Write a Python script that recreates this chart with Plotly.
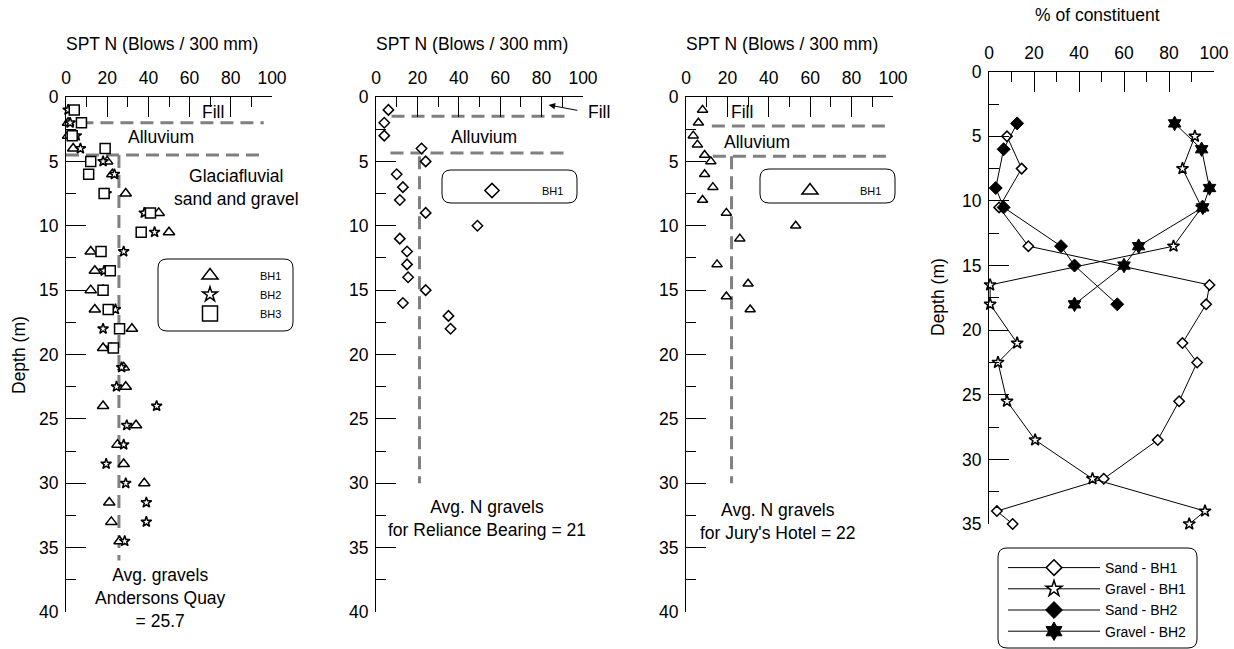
import plotly.graph_objects as go

W, H = 1234, 649
FONT = "Liberation Sans, Arial, sans-serif"

# ---------------- data ----------------
# Panel 1: Andersons Quay SPT N
aq_bh1_depth = [2, 3, 4, 5, 6, 7.5, 9, 10.5, 12, 13.5, 15, 16.5, 18, 19.5, 21, 22.5, 24, 25.5, 27, 28.5, 30, 31.5, 33, 34.5]
aq_bh1_n = [1, 1, 3.5, 20, 22.5, 29, 45, 50, 12, 14, 12, 14, 32, 18, 28, 29, 18, 34, 25, 28, 38, 21, 22, 26]
aq_bh2_depth = [1, 2, 3, 4, 5, 6, 7.5, 9, 10.5, 12, 13.5, 15, 16.5, 18, 19.5, 21, 22.5, 24, 25.5, 27, 28.5, 30, 31.5, 33, 34.5]
aq_bh2_n = [1, 2, 5, 7, 18, 23.5, 19.5, 38, 43, 28, 18.5, 18, 24, 18, 22, 27, 24.5, 44, 29.5, 28, 19.5, 29, 39, 39, 28.5]
aq_bh3_depth = [1, 2, 3, 4, 5, 6, 7.5, 9, 10.5, 12, 13.5, 15, 16.5, 18, 19.5]
aq_bh3_n = [4, 7.5, 3, 19, 12, 11, 18.5, 41, 36.5, 17, 21.5, 18, 20.5, 26, 23]
aq_fill_depth, aq_fill_span = 2.0, [7, 96]
aq_alluv_depth, aq_alluv_span = 4.5, [0, 96]
aq_avg_n, aq_avg_span = 25.7, [4.5, 36]

# Panel 2: Reliance Bearing SPT N
rb_depth = [1, 2, 3, 4, 5, 6, 7, 8, 9, 10, 11, 12, 13, 14, 15, 16, 17, 18]
rb_n = [6, 4, 4, 22, 24, 10, 13, 11.5, 24, 49, 11.5, 15, 15, 15.5, 24, 13, 35, 36]
rb_fill_depth, rb_fill_span = 1.5, [7.5, 93]
rb_alluv_depth, rb_alluv_span = 4.35, [7, 92]
rb_avg_n, rb_avg_span = 21, [4.6, 30]

# Panel 3: Jury's Hotel SPT N
jh_depth = [1, 2, 3, 3.7, 4.5, 5, 6, 7, 8, 9, 10, 11, 13, 14.5, 15.5, 16.5]
jh_n = [8, 6, 3.5, 5.5, 9, 12, 9, 13, 8, 19.5, 53, 26, 15, 30, 19.5, 31]
jh_fill_depth, jh_fill_span = 2.25, [12.5, 97]
jh_alluv_depth, jh_alluv_span = 4.6, [13, 99]
jh_avg_n, jh_avg_span = 22, [4.6, 30]

# Panel 4: % of constituent
bh1_depth = [5, 7.5, 10.5, 13.5, 16.5, 18, 21, 22.5, 25.5, 28.5, 31.5, 34, 35]
sand_bh1 = [8, 14.5, 4.5, 17.5, 98, 96.5, 86, 92.5, 84.5, 75, 51, 3.5, 10.5]
gravel_bh1 = [91.5, 86, 94.5, 82, 0.5, 0.5, 12.5, 4, 8, 20.5, 46, 96, 89]
bh2_depth = [4, 6, 9, 10.5, 13.5, 15, 18]
sand_bh2 = [12.5, 6.5, 3, 6.5, 32, 38, 57]
gravel_bh2 = [82.5, 94.5, 98, 95, 66.5, 60, 38]

x_ticks = [0, 20, 40, 60, 80, 100]
depth_ticks_spt = [0, 5, 10, 15, 20, 25, 30, 35, 40]
depth_ticks_pct = [0, 5, 10, 15, 20, 25, 30, 35]

# ---------------- figure ----------------
fig = go.Figure()

def fx(px):
    return px / W

def fy(py):
    return 1 - py / H

OPEN = dict(color="white", line=dict(color="black", width=1.5))
DASH = dict(color="#808080", width=3, dash="13px,7px")

def add_marks(x, y, sym, size, xa, ya, name=None, legend=None, lsize=None):
    fig.add_trace(go.Scatter(x=x, y=y, mode="markers", xaxis=xa, yaxis=ya,
                             marker=dict(symbol=sym, size=size, **OPEN),
                             showlegend=False, cliponaxis=False, hoverinfo="skip"))
    if name:
        fig.add_trace(go.Scatter(x=[None], y=[None], mode="markers", xaxis=xa, yaxis=ya,
                                 marker=dict(symbol=sym, size=lsize, **OPEN),
                                 name=name, legend=legend, showlegend=True))

def add_layers(xa, ya, fill_d, fill_span, all_d, all_span, avg, avg_span):
    fig.add_trace(go.Scatter(x=fill_span, y=[fill_d, fill_d], mode="lines", line=DASH,
                             xaxis=xa, yaxis=ya, showlegend=False, hoverinfo="skip", cliponaxis=False))
    fig.add_trace(go.Scatter(x=all_span, y=[all_d, all_d], mode="lines", line=DASH,
                             xaxis=xa, yaxis=ya, showlegend=False, hoverinfo="skip", cliponaxis=False))
    fig.add_trace(go.Scatter(x=[avg, avg], y=avg_span, mode="lines", line=DASH,
                             xaxis=xa, yaxis=ya, showlegend=False, hoverinfo="skip", cliponaxis=False))

# Panel 1
add_layers("x", "y", aq_fill_depth, aq_fill_span, aq_alluv_depth, aq_alluv_span, aq_avg_n, aq_avg_span)
add_marks(aq_bh1_n, aq_bh1_depth, "triangle-up", 10, "x", "y", "BH1", "legend", 14)
add_marks(aq_bh2_n, aq_bh2_depth, "star", 8, "x", "y", "BH2", "legend", 11)
add_marks(aq_bh3_n, aq_bh3_depth, "square", 10, "x", "y", "BH3", "legend", 15)

# Panel 2
add_layers("x2", "y2", rb_fill_depth, rb_fill_span, rb_alluv_depth, rb_alluv_span, rb_avg_n, rb_avg_span)
add_marks(rb_n, rb_depth, "diamond", 8, "x2", "y2", "BH1", "legend2", 11)

# Panel 3
add_layers("x3", "y3", jh_fill_depth, jh_fill_span, jh_alluv_depth, jh_alluv_span, jh_avg_n, jh_avg_span)
add_marks(jh_n, jh_depth, "triangle-up", 9, "x3", "y3", "BH1", "legend3", 14)

# Panel 4
series4 = [
    ("Sand - BH1", sand_bh1, bh1_depth, "diamond", 8, 12, OPEN),
    ("Gravel - BH1", gravel_bh1, bh1_depth, "star", 9, 12, OPEN),
    ("Sand - BH2", sand_bh2, bh2_depth, "diamond", 10, 13, dict(color="black", line=dict(color="black", width=1))),
    ("Gravel - BH2", gravel_bh2, bh2_depth, "hexagram", 11, 14, dict(color="black", line=dict(color="black", width=1))),
]
for name, xs, ys, sym, sz, lsz, style in series4:
    fig.add_trace(go.Scatter(x=xs, y=ys, mode="lines+markers", xaxis="x4", yaxis="y4",
                             line=dict(color="black", width=1),
                             marker=dict(symbol=sym, size=sz, **style),
                             showlegend=False, cliponaxis=False, hoverinfo="skip"))
    fig.add_trace(go.Scatter(x=[None], y=[None], mode="lines+markers", xaxis="x4", yaxis="y4",
                             line=dict(color="black", width=1),
                             marker=dict(symbol=sym, size=lsz, **style),
                             name=name, legend="legend4", showlegend=True))

# ---------------- axes ----------------
TICKFONT = dict(family=FONT, size=17.5, color="black")

def xaxis_cfg(x0, x1, anchor):
    return dict(domain=[fx(x0), fx(x1)], range=[0, 100], side="top", anchor=anchor,
                showline=True, linecolor="black", linewidth=1, mirror=False,
                ticks="inside", ticklen=20, tickwidth=1, tickcolor="black",
                tickvals=x_ticks, tickfont=TICKFONT, showgrid=False, zeroline=False,
                ticklabelstandoff=5,
                minor=dict(ticks="inside", ticklen=10, dtick=10, tick0=0, tickcolor="black", showgrid=False),
                fixedrange=True, automargin=False)

def yaxis_cfg(top, bottom, rmax, vals, anchor):
    return dict(domain=[fy(bottom), fy(top)], range=[rmax, 0], anchor=anchor,
                showline=True, linecolor="black", linewidth=1,
                ticks="inside", ticklen=20, tickwidth=1, tickcolor="black",
                tickvals=vals, tickfont=TICKFONT, showgrid=False, zeroline=False,
                ticklabelstandoff=3,
                minor=dict(ticks="inside", ticklen=10, dtick=2.5, tick0=0, tickcolor="black", showgrid=False),
                fixedrange=True, automargin=False)

fig.update_layout(
    xaxis=xaxis_cfg(66, 272, "y"),
    yaxis=yaxis_cfg(97, 612, 40, depth_ticks_spt, "x"),
    xaxis2=xaxis_cfg(376, 583, "y2"),
    yaxis2=yaxis_cfg(97, 612, 40, depth_ticks_spt, "x2"),
    xaxis3=xaxis_cfg(686, 893, "y3"),
    yaxis3=yaxis_cfg(97, 612, 40, depth_ticks_spt, "x3"),
    xaxis4=xaxis_cfg(989, 1214, "y4"),
    yaxis4=yaxis_cfg(71.7, 524, 35, depth_ticks_pct, "x4"),
)

# ---------------- legends ----------------
def legend_cfg(x, y, size, itemwidth):
    return dict(x=fx(x), y=fy(y), xanchor="left", yanchor="top", bgcolor="rgba(0,0,0,0)",
                borderwidth=0, font=dict(family=FONT, size=size, color="black"),
                itemwidth=itemwidth, tracegroupgap=0, itemclick=False, itemdoubleclick=False)

fig.update_layout(
    legend=legend_cfg(160, 261, 11, 90),
    legend2=legend_cfg(442, 176, 11, 90),
    legend3=legend_cfg(760, 176, 11, 90),
    legend4=legend_cfg(1003, 552, 14, 92),
)

def rounded_box(x0, y0, x1, y1, r=9):
    X0, X1 = fx(x0), fx(x1)
    Y0, Y1 = fy(y0), fy(y1)
    rx, ry = r / W, r / H
    path = (f"M{X0+rx},{Y0} L{X1-rx},{Y0} Q{X1},{Y0} {X1},{Y0-ry} "
            f"L{X1},{Y1+ry} Q{X1},{Y1} {X1-rx},{Y1} L{X0+rx},{Y1} "
            f"Q{X0},{Y1} {X0},{Y1+ry} L{X0},{Y0-ry} Q{X0},{Y0} {X0+rx},{Y0} Z")
    return dict(type="path", xref="paper", yref="paper", path=path,
                line=dict(color="black", width=1), fillcolor="rgba(0,0,0,0)", layer="below")

fig.update_layout(shapes=[
    rounded_box(158, 259, 293, 331),
    rounded_box(442, 170, 577, 203),
    rounded_box(760, 169, 895, 203),
    rounded_box(998, 548, 1197, 648),
])

# ---------------- annotations ----------------
AF = dict(family=FONT, size=17.5, color="black")
ann = []

def pa(text, x, y, **kw):
    d = dict(text=text, x=fx(x), y=fy(y), xref="paper", yref="paper", showarrow=False, font=AF,
             xanchor="center", yanchor="middle")
    d.update(kw)
    ann.append(d)

def da(text, x, y, xr, yr, **kw):
    d = dict(text=text, x=x, y=y, xref=xr, yref=yr, showarrow=False, font=AF,
             xanchor="center", yanchor="middle")
    d.update(kw)
    ann.append(d)

pa("SPT N (Blows / 300 mm)", 162, 44)
pa("SPT N (Blows / 300 mm)", 472, 44)
pa("SPT N (Blows / 300 mm)", 782, 44)
pa("% of constituent", 1097, 15)
pa("Depth (m)", 19, 355, textangle=-90)
pa("Depth (m)", 938, 297, textangle=-90)

da("Fill", 71.5, 1.15, "x", "y")
da("Alluvium", 46, 3.1, "x", "y")
da("Glaciafluvial<br>sand and gravel", 83, 7.0, "x", "y")
da("Avg. gravels<br>Andersons Quay<br>= 25.7", 46, 38.9, "x", "y")

pa("Fill", 586, 111.5, xanchor="left")
da("Alluvium", 52, 3.1, "x2", "y2")
da("Avg. N gravels<br>for Reliance Bearing = 21", 53.5, 32.75, "x2", "y2")
ann.append(dict(text="", x=83.4, y=0.62, xref="x2", yref="y2", ax=98, ay=1.06,
                axref="x2", ayref="y2", showarrow=True, arrowhead=2, arrowsize=1.3,
                arrowwidth=1, arrowcolor="black"))

da("Fill", 27, 1.2, "x3", "y3")
da("Alluvium", 34.5, 3.47, "x3", "y3")
da("Avg. N gravels<br>for Jury's Hotel = 22", 44.5, 32.95, "x3", "y3")

fig.update_layout(annotations=ann)

fig.update_layout(width=W, height=H, margin=dict(l=0, r=0, t=0, b=0, autoexpand=False),
                  paper_bgcolor="white", plot_bgcolor="white",
                  font=dict(family=FONT, size=17, color="black"),
                  hovermode=False)

fig.write_html("out.html", config={"displayModeBar": False})
